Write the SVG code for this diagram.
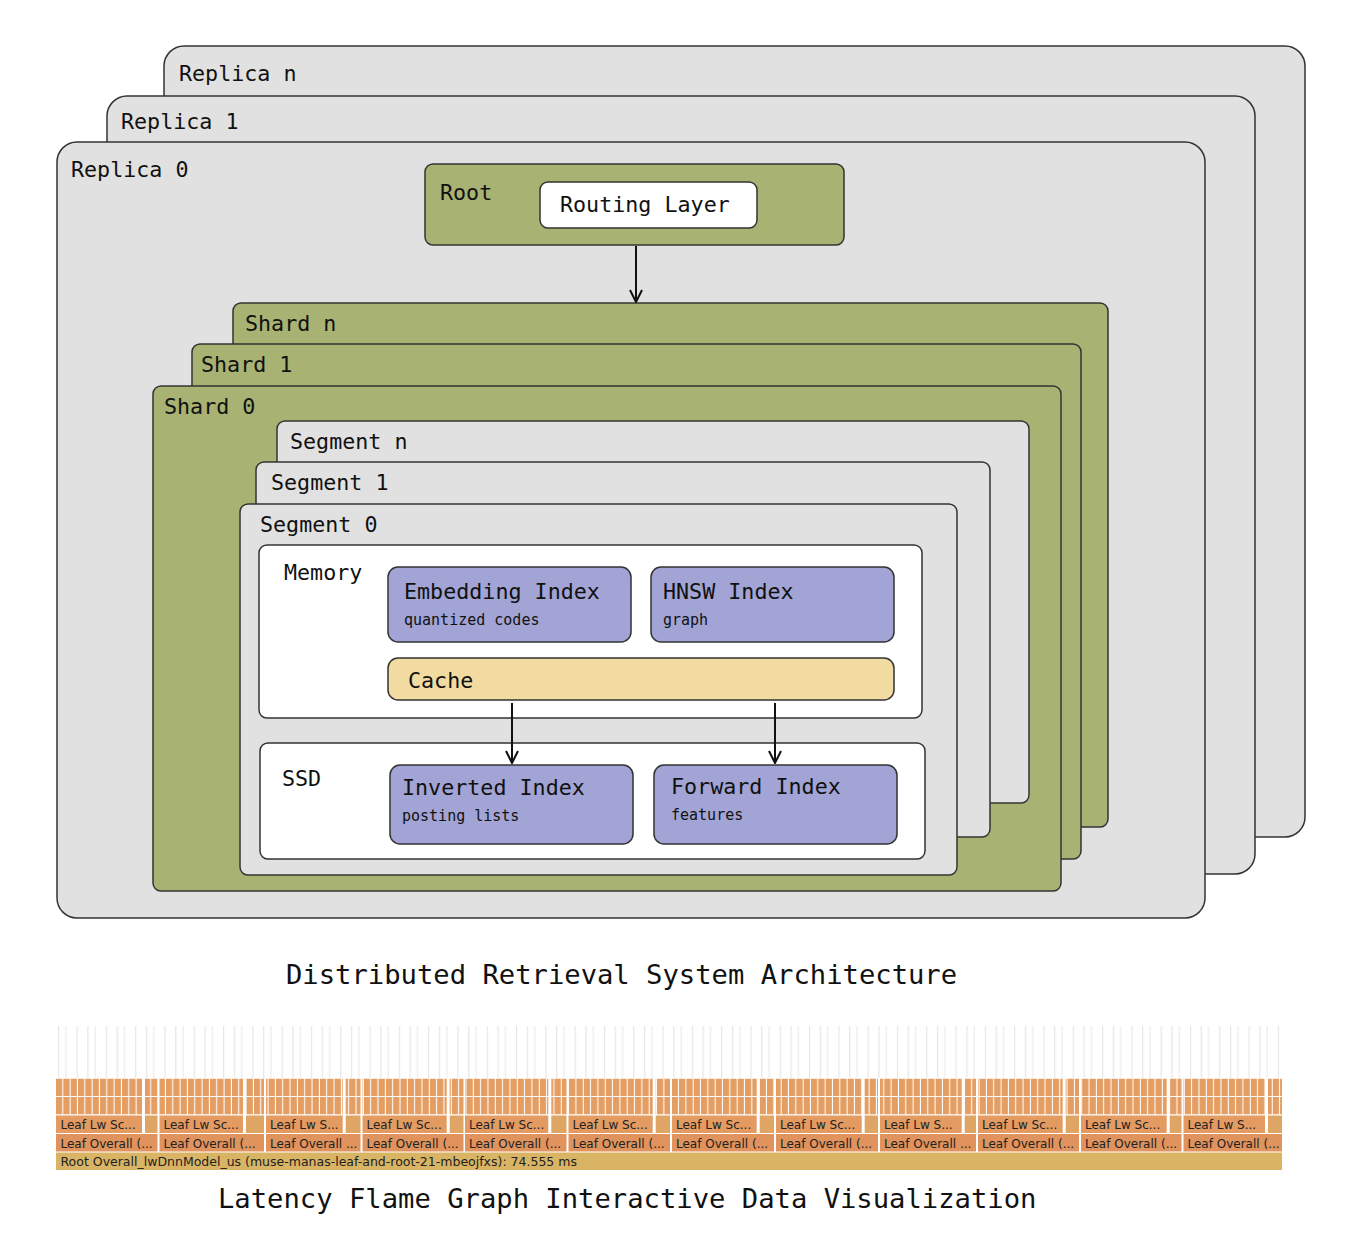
<svg xmlns="http://www.w3.org/2000/svg" width="1358" height="1260" viewBox="0 0 1358 1260">
<style>
.t{font-family:"DejaVu Sans Mono","Liberation Mono",monospace;font-size:21.7px;fill:#111}
.s{font-family:"DejaVu Sans Mono","Liberation Mono",monospace;font-size:15px;fill:#111}
.cap{font-family:"DejaVu Sans Mono","Liberation Mono",monospace;font-size:27.2px;fill:#111}
.gray{fill:#e1e1e1;stroke:#333;stroke-width:1.5}
.olive{fill:#a8b272;stroke:#333;stroke-width:1.5}
.white{fill:#fff;stroke:#333;stroke-width:1.5}
.blue{fill:#a1a4d4;stroke:#333;stroke-width:1.5}
.cache{fill:#f2dba1;stroke:#333;stroke-width:1.5}
.conn{stroke:#111;stroke-width:2;fill:none}
.ft{font-family:"DejaVu Sans",Verdana,sans-serif;font-size:12px;fill:#222}
.fo{fill:#e0935c}
.fl{fill:#e39b62}
.fs{fill:#dfa565}
</style>
<defs>
<marker id="arr" viewBox="0 0 14 14" refX="13" refY="7" markerWidth="14" markerHeight="14" markerUnits="userSpaceOnUse" orient="auto">
<path d="M1,1 L13,7 L1,13" fill="none" stroke="#111" stroke-width="2"/>
</marker>
<pattern id="cols" patternUnits="userSpaceOnUse" x="56" y="1078.5" width="7.33" height="18.5">
<rect x="0" y="0" width="6.3" height="17.5" fill="#e49e63"/>
</pattern>
<pattern id="thin" patternUnits="userSpaceOnUse" x="56" y="1026" width="29.3" height="52">
<rect x="2" y="0" width="1.2" height="52" fill="#e6e6e6"/>
<rect x="9.3" y="0" width="1.2" height="52" fill="#ececec"/>
<rect x="20.5" y="0" width="1.2" height="52" fill="#e6e6e6"/>
</pattern>
</defs>
<rect width="1358" height="1260" fill="#fff"/>

<g id="replica-n"><rect class="gray" x="164" y="46" width="1141" height="791" rx="20"/><text class="t" x="179" y="81">Replica n</text></g>
<g id="replica-1"><rect class="gray" x="107" y="96" width="1148" height="778" rx="20"/><text class="t" x="121" y="129">Replica 1</text></g>
<g id="replica-0"><rect class="gray" x="57" y="142" width="1148" height="776" rx="20"/><text class="t" x="71" y="177">Replica 0</text></g>

<g id="root"><rect class="olive" x="425" y="164" width="419" height="81" rx="8"/><text class="t" x="440" y="200">Root</text></g>
<g id="routing-layer"><rect class="white" x="540" y="182" width="217" height="46" rx="8"/><text class="t" x="560" y="212">Routing Layer</text></g>

<g id="shard-n"><rect class="olive" x="233" y="303" width="875" height="524" rx="8"/><text class="t" x="245" y="331">Shard n</text></g>
<g id="shard-1"><rect class="olive" x="192" y="344" width="889" height="515" rx="8"/><text class="t" x="201" y="372">Shard 1</text></g>
<g id="shard-0"><rect class="olive" x="153" y="386" width="908" height="505" rx="8"/><text class="t" x="164" y="414">Shard 0</text></g>

<g id="segment-n"><rect class="gray" x="277" y="421" width="752" height="382" rx="8"/><text class="t" x="290" y="449">Segment n</text></g>
<g id="segment-1"><rect class="gray" x="256" y="462" width="734" height="375" rx="8"/><text class="t" x="271" y="490">Segment 1</text></g>
<g id="segment-0"><rect class="gray" x="240" y="504" width="717" height="371" rx="8"/><text class="t" x="260" y="532">Segment 0</text></g>

<g id="memory"><rect class="white" x="259" y="545" width="663" height="173" rx="8"/><text class="t" x="284" y="580">Memory</text></g>
<g id="embedding-index"><rect class="blue" x="388" y="567" width="243" height="75" rx="10"/><text class="t" x="404" y="599">Embedding Index</text><text class="s" x="404" y="625">quantized codes</text></g>
<g id="hnsw-index"><rect class="blue" x="651" y="567" width="243" height="75" rx="10"/><text class="t" x="663" y="599">HNSW Index</text><text class="s" x="663" y="625">graph</text></g>
<g id="cache"><rect class="cache" x="388" y="658" width="506" height="42" rx="10"/><text class="t" x="408" y="688">Cache</text></g>

<g id="ssd"><rect class="white" x="260" y="743" width="665" height="116" rx="8"/><text class="t" x="282" y="786">SSD</text></g>
<g id="inverted-index"><rect class="blue" x="390" y="765" width="243" height="79" rx="10"/><text class="t" x="402" y="795">Inverted Index</text><text class="s" x="402" y="821">posting lists</text></g>
<g id="forward-index"><rect class="blue" x="654" y="765" width="243" height="79" rx="10"/><text class="t" x="671" y="794">Forward Index</text><text class="s" x="671" y="820">features</text></g>

<g id="connectors">
<line class="conn" x1="636" y1="246" x2="636" y2="302" marker-end="url(#arr)"/>
<line class="conn" x1="512" y1="703" x2="512" y2="763" marker-end="url(#arr)"/>
<line class="conn" x1="775" y1="703" x2="775" y2="763" marker-end="url(#arr)"/>
</g>

<text class="cap" x="286" y="984">Distributed Retrieval System Architecture</text>

<g id="flame-graph">
<rect x="56" y="1026" width="1226" height="52" fill="url(#thin)"/>
<rect x="56" y="1078.5" width="1226" height="36" fill="url(#cols)"/>
<g fill="#fff">
<rect x="142" y="1078" width="3" height="37"/><rect x="157.5" y="1078" width="2" height="37"/>
<rect x="243" y="1078" width="3" height="37"/><rect x="264" y="1078" width="2" height="37"/>
<rect x="342.7" y="1078" width="3" height="37"/><rect x="360.5" y="1078" width="2" height="37"/>
<rect x="446.7" y="1078" width="3" height="37"/><rect x="463.5" y="1078" width="1.5" height="37"/>
<rect x="548.3" y="1078" width="3" height="37"/><rect x="566.5" y="1078" width="2" height="37"/>
<rect x="652.7" y="1078" width="3" height="37"/><rect x="670" y="1078" width="2" height="37"/>
<rect x="756.7" y="1078" width="3" height="37"/><rect x="774" y="1078" width="2" height="37"/>
<rect x="861.7" y="1078" width="3" height="37"/><rect x="878" y="1078" width="2" height="37"/>
<rect x="961.7" y="1078" width="3" height="37"/><rect x="976" y="1078" width="2" height="37"/>
<rect x="1062.7" y="1078" width="3" height="37"/><rect x="1079" y="1078" width="2" height="37"/>
<rect x="1166.7" y="1078" width="3" height="37"/><rect x="1181.5" y="1078" width="2" height="37"/>
<rect x="1265" y="1078" width="3" height="37"/>
</g>
<g class="fl">
<rect x="56" y="1115.5" width="86" height="17.5"/>
<rect x="159.5" y="1115.5" width="83.5" height="17.5"/>
<rect x="266" y="1115.5" width="76.7" height="17.5"/>
<rect x="362.5" y="1115.5" width="84.2" height="17.5"/>
<rect x="465" y="1115.5" width="83.3" height="17.5"/>
<rect x="568.5" y="1115.5" width="84.2" height="17.5"/>
<rect x="672" y="1115.5" width="84.7" height="17.5"/>
<rect x="776" y="1115.5" width="85.7" height="17.5"/>
<rect x="880" y="1115.5" width="81.7" height="17.5"/>
<rect x="978" y="1115.5" width="84.7" height="17.5"/>
<rect x="1081" y="1115.5" width="85.7" height="17.5"/>
<rect x="1183.5" y="1115.5" width="81.5" height="17.5"/>
</g>
<g class="fs">
<rect x="145" y="1115.5" width="12.5" height="17.5"/>
<rect x="246" y="1115.5" width="18" height="17.5"/>
<rect x="345.7" y="1115.5" width="14.8" height="17.5"/>
<rect x="449.7" y="1115.5" width="13.8" height="17.5"/>
<rect x="551.3" y="1115.5" width="15.2" height="17.5"/>
<rect x="655.7" y="1115.5" width="14.3" height="17.5"/>
<rect x="759.7" y="1115.5" width="14.3" height="17.5"/>
<rect x="864.7" y="1115.5" width="13.3" height="17.5"/>
<rect x="964.7" y="1115.5" width="11.3" height="17.5"/>
<rect x="1065.7" y="1115.5" width="13.3" height="17.5"/>
<rect x="1169.7" y="1115.5" width="11.8" height="17.5"/>
<rect x="1268" y="1115.5" width="14" height="17.5"/>
</g>
<g class="fo">
<rect x="56" y="1134" width="101.5" height="17.5"/>
<rect x="159.5" y="1134" width="104.5" height="17.5"/>
<rect x="266" y="1134" width="94.5" height="17.5"/>
<rect x="362.5" y="1134" width="101" height="17.5"/>
<rect x="465" y="1134" width="101.5" height="17.5"/>
<rect x="568.5" y="1134" width="101.5" height="17.5"/>
<rect x="672" y="1134" width="102" height="17.5"/>
<rect x="776" y="1134" width="102" height="17.5"/>
<rect x="880" y="1134" width="96" height="17.5"/>
<rect x="978" y="1134" width="101" height="17.5"/>
<rect x="1081" y="1134" width="100.5" height="17.5"/>
<rect x="1183.5" y="1134" width="98.5" height="17.5"/>
</g>
<rect x="56" y="1152.5" width="1226" height="17.5" fill="#d9b464"/>
<g class="ft">
<text x="60.5" y="1129">Leaf Lw Sc...</text>
<text x="163.5" y="1129">Leaf Lw Sc...</text>
<text x="270" y="1129">Leaf Lw S...</text>
<text x="366.5" y="1129">Leaf Lw Sc...</text>
<text x="469" y="1129">Leaf Lw Sc...</text>
<text x="572.5" y="1129">Leaf Lw Sc...</text>
<text x="676" y="1129">Leaf Lw Sc...</text>
<text x="780" y="1129">Leaf Lw Sc...</text>
<text x="884" y="1129">Leaf Lw S...</text>
<text x="982" y="1129">Leaf Lw Sc...</text>
<text x="1085" y="1129">Leaf Lw Sc...</text>
<text x="1187.5" y="1129">Leaf Lw S...</text>
<text x="60.5" y="1147.5">Leaf Overall (...</text>
<text x="163.5" y="1147.5">Leaf Overall (...</text>
<text x="270" y="1147.5">Leaf Overall ...</text>
<text x="366.5" y="1147.5">Leaf Overall (...</text>
<text x="469" y="1147.5">Leaf Overall (...</text>
<text x="572.5" y="1147.5">Leaf Overall (...</text>
<text x="676" y="1147.5">Leaf Overall (...</text>
<text x="780" y="1147.5">Leaf Overall (...</text>
<text x="884" y="1147.5">Leaf Overall ...</text>
<text x="982" y="1147.5">Leaf Overall (...</text>
<text x="1085" y="1147.5">Leaf Overall (...</text>
<text x="1187.5" y="1147.5">Leaf Overall (...</text>
<text x="60.5" y="1166" style="font-size:12.5px">Root Overall_lwDnnModel_us (muse-manas-leaf-and-root-21-mbeojfxs): 74.555 ms</text>
</g>
</g>

<text class="cap" x="218" y="1208">Latency Flame Graph Interactive Data Visualization</text>
</svg>
